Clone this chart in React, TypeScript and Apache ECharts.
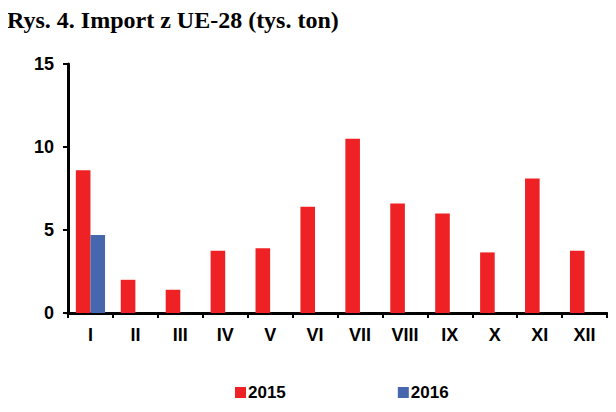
import React, { useEffect, useRef } from "react";
import * as echarts from "echarts";

const categories = ["I", "II", "III", "IV", "V", "VI", "VII", "VIII", "IX", "X", "XI", "XII"];
const values2015 = [8.6, 2.0, 1.4, 3.75, 3.9, 6.4, 10.5, 6.6, 6.0, 3.65, 8.1, 3.75];
const values2016: (number | null)[] = [4.7, null, null, null, null, null, null, null, null, null, null, null];
const seriesNames = ["2015", "2016"];
const titleText = "Rys. 4. Import z UE-28 (tys. ton)";

export default function App() {
  const ref = useRef<HTMLDivElement>(null);
  useEffect(() => {
    if (!ref.current) return;
    const chart = echarts.init(ref.current, undefined, { renderer: "svg" });
    const labelFont = { fontFamily: "Liberation Sans, Arial, sans-serif", fontWeight: "bold" as const, fontSize: 18, color: "#000" };
    chart.setOption({
      animation: false,
      title: {
        text: titleText,
        left: -1,
        top: 0,
        padding: 0,
        textStyle: { fontFamily: "Liberation Serif, Times New Roman, serif", fontWeight: "bold", fontSize: 24, color: "#000" },
      },
      legend: {
        left: 227,
        top: 376,
        padding: 0,
        itemWidth: 11,
        itemHeight: 11,
        itemGap: 112,
        icon: "rect",
        textStyle: { ...labelFont, fontSize: 17, padding: [0, 0, 0, -3] },
        data: seriesNames,
      },
      grid: { left: 60, right: 1, top: 56, bottom: 99, containLabel: false },
      xAxis: {
        type: "category",
        data: categories,
        axisLine: { lineStyle: { color: "#000", width: 3 } },
        axisTick: { show: true, alignWithLabel: false, length: 5, lineStyle: { color: "#000", width: 2 } },
        axisLabel: { ...labelFont, margin: 13 },
      },
      yAxis: {
        type: "value",
        min: 0,
        max: 15,
        interval: 5,
        axisLine: { show: true, lineStyle: { color: "#000", width: 3 } },
        axisTick: { show: true, length: 5, lineStyle: { color: "#000", width: 2 } },
        axisLabel: { ...labelFont, margin: 14 },
        splitLine: { show: false },
      },
      series: [
        {
          name: seriesNames[0],
          type: "bar",
          data: values2015,
          itemStyle: { color: "#EE2225" },
          barGap: "0%",
          barCategoryGap: "35%",
        },
        {
          name: seriesNames[1],
          type: "bar",
          data: values2016,
          itemStyle: { color: "#4667AE" },
          barGap: "0%",
          barCategoryGap: "35%",
        },
      ],
    });
    return () => chart.dispose();
  }, []);
  return <div ref={ref} style={{ width: 600, height: 404 }} />;
}
